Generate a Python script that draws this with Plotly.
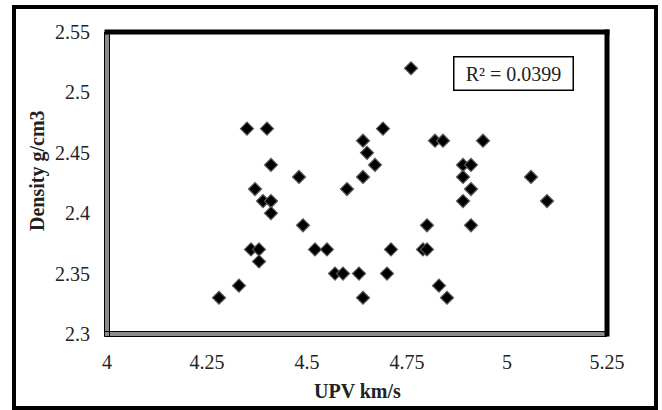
import plotly.graph_objects as go

upv = [4.28, 4.33, 4.36, 4.38, 4.38, 4.39, 4.41, 4.41, 4.49, 4.52, 4.55, 4.57, 4.59, 4.63, 4.64,
       4.35, 4.40, 4.41, 4.48, 4.37, 4.64, 4.65, 4.64, 4.60, 4.67, 4.69, 4.76, 4.82, 4.84, 4.94,
       4.89, 4.91, 4.89, 4.91, 4.89, 5.06, 5.10, 4.80, 4.91, 4.71, 4.79, 4.80, 4.70, 4.83, 4.85]
density = [2.33, 2.34, 2.37, 2.37, 2.36, 2.41, 2.41, 2.40, 2.39, 2.37, 2.37, 2.35, 2.35, 2.35, 2.33,
           2.47, 2.47, 2.44, 2.43, 2.42, 2.46, 2.45, 2.43, 2.42, 2.44, 2.47, 2.52, 2.46, 2.46, 2.46,
           2.44, 2.44, 2.43, 2.42, 2.41, 2.43, 2.41, 2.39, 2.39, 2.37, 2.37, 2.37, 2.35, 2.34, 2.33]

x_ticks = [4, 4.25, 4.5, 4.75, 5, 5.25]
x_tick_text = ["4", "4.25", "4.5", "4.75", "5", "5.25"]
y_ticks = [2.3, 2.35, 2.4, 2.45, 2.5, 2.55]
y_tick_text = ["2.3", "2.35", "2.4", "2.45", "2.5", "2.55"]
r2_label = "R² = 0.0399"
x_title = "UPV km/s"
y_title = "Density g/cm3"

W, H = 662, 410
L, R, T, B = 107, 55, 32, 76
pw, ph = W - L - R, H - T - B

def px(x):
    return (x - L) / pw

def py(y):
    return (H - B - y) / ph

FONT = "Liberation Serif, Times New Roman, serif"

fig = go.Figure()
fig.add_trace(go.Scatter(
    x=upv, y=density, mode="markers",
    marker=dict(symbol="diamond", size=10, color="black",
                line=dict(color="#555555", width=1.2)),
    showlegend=False, hoverinfo="x+y"))

fig.update_layout(
    width=W, height=H,
    margin=dict(l=L, r=R, t=T, b=B),
    paper_bgcolor="white", plot_bgcolor="white",
    font=dict(family=FONT, size=20, color="#222222"),
    xaxis=dict(range=[4, 5.25], tickvals=x_ticks, ticktext=x_tick_text,
               showgrid=False, zeroline=False, showline=False, ticks="",
               ticklabelstandoff=14, tickfont=dict(size=20, family=FONT, color="#222222")),
    yaxis=dict(range=[2.3, 2.55], tickvals=y_ticks, ticktext=y_tick_text,
               showgrid=False, zeroline=False, showline=False, ticks="",
               ticklabelstandoff=16, tickfont=dict(size=20, family=FONT, color="#222222")),
)

shapes = []
# outer frame
shapes.append(dict(type="rect", xref="paper", yref="paper",
                   x0=px(14), x1=px(656), y0=py(408), y1=py(7),
                   line=dict(color="black", width=4), layer="below"))
# plot area border: left & bottom gray with black edges
gx = 2.5 / pw
gy = 2.5 / ph
shapes.append(dict(type="line", xref="paper", yref="paper", x0=0, x1=0, y0=-gy, y1=1,
                   line=dict(color="#8a8a8a", width=5)))
shapes.append(dict(type="line", xref="paper", yref="paper", x0=-gx, x1=1, y0=0, y1=0,
                   line=dict(color="#8a8a8a", width=5)))
for off in (-gx, gx):
    shapes.append(dict(type="line", xref="paper", yref="paper", x0=off, x1=off, y0=-gy, y1=1,
                       line=dict(color="black", width=1)))
for off in (-gy, gy):
    shapes.append(dict(type="line", xref="paper", yref="paper", x0=-gx, x1=1, y0=off, y1=off,
                       line=dict(color="black", width=1)))
# top & right thick black
shapes.append(dict(type="line", xref="paper", yref="paper", x0=-gx, x1=1 + gx, y0=1, y1=1,
                   line=dict(color="black", width=5)))
shapes.append(dict(type="line", xref="paper", yref="paper", x0=1, x1=1, y0=-gy, y1=1 + gy,
                   line=dict(color="black", width=5)))
fig.update_layout(shapes=shapes)

fig.add_annotation(xref="paper", yref="paper", x=px(513), y=py(73),
                   xanchor="center", yanchor="middle",
                   text=r2_label, showarrow=False,
                   font=dict(family=FONT, size=20, color="#222222"),
                   bordercolor="black", borderwidth=1.5, borderpad=3,
                   width=112, height=26, bgcolor="white")
fig.add_annotation(xref="paper", yref="paper", x=0.5, y=py(391),
                   xanchor="center", yanchor="middle",
                   text="<b>" + x_title + "</b>", showarrow=False,
                   font=dict(family=FONT, size=20, color="#222222"))
fig.add_annotation(xref="paper", yref="paper", x=px(37), y=py(171),
                   xanchor="center", yanchor="middle",
                   text="<b>" + y_title + "</b>", showarrow=False, textangle=-90,
                   font=dict(family=FONT, size=20, color="#222222"))

fig.write_html("out.html")
